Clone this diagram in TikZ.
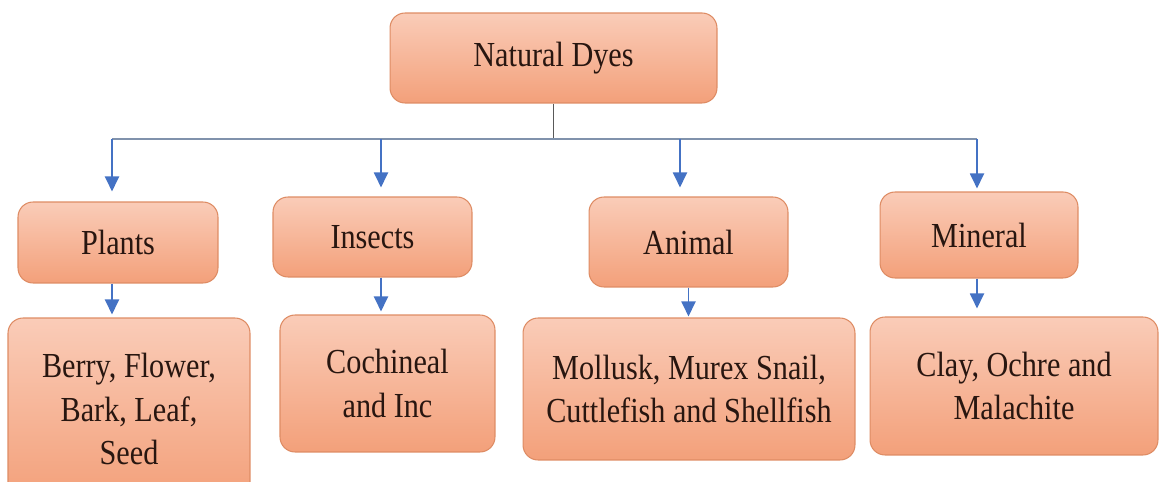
\documentclass[tikz,border=0pt]{standalone}
\usepackage{fontspec}
\setmainfont{Liberation Serif}[FakeStretch=0.86]
\usetikzlibrary{arrows.meta, positioning}
\definecolor{peachtop}{RGB}{250, 204, 184}
\definecolor{peachbot}{RGB}{243, 160, 122}
\definecolor{peachline}{RGB}{222, 140, 100}
\definecolor{arrowblue}{RGB}{68, 114, 196}
\definecolor{busgray}{RGB}{128, 146, 172}
\definecolor{inkbrown}{RGB}{40, 22, 16}

\begin{document}
\begin{tikzpicture}[x=0.02cm, y=-0.02cm,
                    every node/.style={font=\fontsize{20}{24.5}\selectfont, text=inkbrown},
                    box/.style={draw=peachline, line width=0.6pt, rounded corners=0.3cm,
                                top color=peachtop, bottom color=peachbot,
                                inner sep=0pt, align=center},
                    arr/.style={-{Triangle[width=0.28cm, length=0.3cm]}, line width=1.1pt, arrowblue}]
        \useasboundingbox (0,0) rectangle (1159,482);

        % top
        \node[box, minimum width=6.54cm, minimum height=1.8cm] (dyes) at (553.5,58) {Natural Dyes};

        % second row
        \node[box, minimum width=4.0cm,  minimum height=1.62cm] (plants)  at (118,242.5) {Plants};
        \node[box, minimum width=3.98cm, minimum height=1.6cm]  (insects) at (372.5,237) {Insects};
        \node[box, minimum width=3.98cm, minimum height=1.8cm]  (animal)  at (688.5,242) {Animal};
        \node[box, minimum width=3.96cm, minimum height=1.72cm] (mineral) at (979,235)   {Mineral};

        % third row
        \node[box, minimum width=4.84cm, minimum height=3.64cm] (berry)     at (129,409)    {Berry, Flower,\\Bark, Leaf,\\Seed};
        \node[box, minimum width=4.3cm,  minimum height=2.74cm] (cochineal) at (387.5,383.5) {Cochineal\\and Inc};
        \node[box, minimum width=6.64cm, minimum height=2.84cm] (mollusk)   at (689,389)    {Mollusk, Murex Snail,\\Cuttlefish and Shellfish};
        \node[box, minimum width=5.76cm, minimum height=2.76cm] (clay)      at (1014,386)   {Clay, Ochre and\\Malachite};

        % bus
        \coordinate (a1) at (112,139);
        \coordinate (a2) at (381,139);
        \coordinate (a3) at (680,139);
        \coordinate (a4) at (977,139);
        \coordinate (mid) at (553.5,139);

        \draw[line width=0.6pt, black!65] (dyes) -- (mid);
        \draw[line width=1pt, busgray] (a1) -- (a4);

        \draw[arr, shorten >=0.2cm]  (a1) -- (a1 |- plants.north);
        \draw[arr, shorten >=0.18cm] (a2) -- (a2 |- insects.north);
        \draw[arr, shorten >=0.18cm] (a3) -- (a3 |- animal.north);
        \draw[arr, shorten >=0.06cm] (a4) -- (a4 |- mineral.north);

        \draw[arr, shorten >=0.06cm] ([xshift=-0.12cm]plants.south) -- ([xshift=-0.12cm]plants.south |- berry.north);
        \draw[arr, shorten >=0.06cm] (a2 |- insects.south) -- (a2 |- cochineal.north);
        \draw[arr, shorten >=0.02cm] (animal) -- (animal |- mollusk.north);
        \draw[arr, shorten >=0.16cm] (a4 |- mineral.south) -- (a4 |- clay.north);
      \end{tikzpicture}
\end{document}
